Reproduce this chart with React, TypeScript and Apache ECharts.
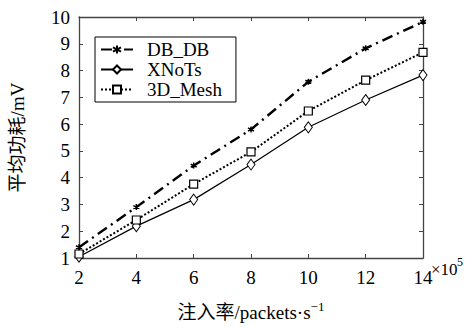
import React, { useEffect, useRef } from "react";
import * as echarts from "echarts";

const xValues = [2, 4, 6, 8, 10, 12, 14];
const dbdb = [1.4, 2.9, 4.45, 5.8, 7.58, 8.83, 9.82];
const xnots = [1.05, 2.19, 3.18, 4.49, 5.88, 6.9, 7.83];
const mesh3d = [1.15, 2.42, 3.76, 4.96, 6.49, 7.64, 8.68];
const seriesNames = ["DB_DB", "XNoTs", "3D_Mesh"];

const FONT = "'Liberation Serif', 'Times New Roman', 'Noto Sans CJK SC', serif";
const asterisk = "path://M0,-5L0,5M-4.5,-2.6L4.5,2.6M-4.5,2.6L4.5,-2.6";

export default function App() {
  const ref = useRef<HTMLDivElement>(null);
  useEffect(() => {
    const chart = echarts.init(ref.current!, null, { renderer: "svg" });
    const pair = (ys: number[]) => xValues.map((x, i) => [x, ys[i]]);
    const axisLine = { show: true, lineStyle: { color: "#444", width: 1.3 } };
    const tick = { inside: true, length: 4, lineStyle: { color: "#444" } };
    chart.setOption({
      animation: false,
      backgroundColor: "#fff",
      grid: { left: 78, right: 42, top: 17, bottom: 54 },
      legend: {
        orient: "vertical",
        left: 95,
        top: 37,
        borderColor: "#000",
        borderWidth: 1,
        backgroundColor: "#fff",
        padding: [3, 14, 3, 5],
        itemGap: 1,
        itemWidth: 32,
        itemHeight: 10,
        data: seriesNames,
        textStyle: { fontFamily: FONT, fontSize: 19, color: "#000", padding: [0, 0, 0, 9] },
      },
      xAxis: [
        {
          type: "value",
          min: 2,
          max: 14,
          interval: 2,
          name: "注入率/packets·s{sup|−1}",
          nameLocation: "middle",
          nameGap: 42,
          nameTextStyle: {
            fontFamily: FONT,
            fontSize: 19,
            color: "#000",
            rich: { sup: { fontFamily: FONT, fontSize: 13, verticalAlign: "top", padding: [0, 0, 12, 0], color: "#000" } },
          },
          axisLine,
          axisTick: tick,
          axisLabel: { fontFamily: FONT, fontSize: 19, color: "#000", margin: 10 },
          splitLine: { show: false },
        },
        {
          type: "value",
          min: 2,
          max: 14,
          interval: 2,
          position: "top",
          axisLine,
          axisTick: tick,
          axisLabel: { show: false },
          splitLine: { show: false },
        },
      ],
      yAxis: [
        {
          type: "value",
          min: 1,
          max: 10,
          interval: 1,
          name: "平均功耗/mV",
          nameLocation: "middle",
          nameGap: 52,
          nameTextStyle: { fontFamily: FONT, fontSize: 19, color: "#000" },
          axisLine,
          axisTick: tick,
          axisLabel: { fontFamily: FONT, fontSize: 19, color: "#000", margin: 9 },
          splitLine: { show: false },
        },
        {
          type: "value",
          min: 1,
          max: 10,
          interval: 1,
          position: "right",
          axisLine,
          axisTick: tick,
          axisLabel: { show: false },
          splitLine: { show: false },
        },
      ],
      graphic: [
        {
          type: "text",
          x: 431,
          y: 269,
          style: {
            text: "×10",
            fontFamily: FONT,
            fontSize: 17,
            fill: "#000",
            verticalAlign: "middle",
          },
        },
        {
          type: "text",
          x: 457,
          y: 262,
          style: {
            text: "5",
            fontFamily: FONT,
            fontSize: 12,
            fill: "#000",
            verticalAlign: "middle",
          },
        },
      ],
      series: [
        {
          name: seriesNames[0],
          type: "line",
          data: pair(dbdb),
          symbol: asterisk,
          symbolSize: 6,
          itemStyle: { color: "#000", borderColor: "#000", borderWidth: 1.5 },
          lineStyle: { color: "#000", width: 2.4, type: [11, 5, 2, 5] },
          z: 3,
        },
        {
          name: seriesNames[1],
          type: "line",
          data: pair(xnots),
          symbol: "diamond",
          symbolSize: [8, 11],
          itemStyle: { color: "#fff", borderColor: "#000", borderWidth: 1 },
          lineStyle: { color: "#000", width: 1.2, type: "solid" },
          z: 2,
        },
        {
          name: seriesNames[2],
          type: "line",
          data: pair(mesh3d),
          symbol: "rect",
          symbolSize: 8,
          itemStyle: { color: "#fff", borderColor: "#000", borderWidth: 1.2 },
          lineStyle: { color: "#000", width: 2, type: [2, 2] },
          z: 2,
        },
      ],
    });
    return () => chart.dispose();
  }, []);
  return (
    <div
      ref={ref}
      style={{ position: "absolute", left: 0, top: 0, width: 465, height: 327, overflow: "hidden" }}
    />
  );
}
